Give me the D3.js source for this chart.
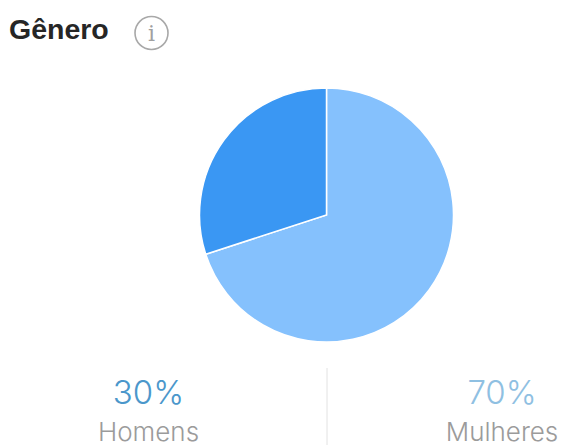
<!DOCTYPE html>
<html>
<head>
<meta charset="utf-8">
<script src="https://cdn.jsdelivr.net/npm/d3@7/dist/d3.min.js"></script>
<style>
html,body{margin:0;padding:0;background:#fff;overflow:hidden}
svg{display:block}
</style>
</head>
<body>
<svg id="chart" width="562" height="445"></svg>
<script>
const categories = ["Mulheres", "Homens"];
const shares = [70, 30];
const sliceColors = ["#85c1fd", "#3a97f3"];
const labelColors = ["#8fc0e2", "#4b97cb"];
const titleText = "Gênero";

const svg = d3.select("#chart");
const uiFont = "Inter, Roboto, 'Liberation Sans', sans-serif";

// Pie: clockwise from twelve o'clock, largest share first
const pie = d3.pie().value(d => d).sort(null);
const arc = d3.arc().innerRadius(0).outerRadius(127);

svg.append("g")
  .attr("transform", "translate(326.5,215)")
  .selectAll("path")
  .data(pie(shares))
  .join("path")
  .attr("d", arc)
  .attr("fill", (d, i) => sliceColors[i])
  .attr("stroke", "#ffffff")
  .attr("stroke-width", 1.5);

// Header
svg.append("text")
  .attr("x", 9).attr("y", 38.5)
  .attr("font-family", "'Liberation Sans', Arial, sans-serif")
  .attr("font-weight", 700).attr("font-size", 28.5)
  .attr("fill", "#262626")
  .text(titleText);

const info = svg.append("g").attr("transform", "translate(151.5,33)");
info.append("circle").attr("r", 16.5)
  .attr("fill", "none").attr("stroke", "#a8a8a8").attr("stroke-width", 1.6);
info.append("text")
  .attr("text-anchor", "middle").attr("y", 8)
  .attr("font-family", "'DejaVu Serif', 'Liberation Serif', serif")
  .attr("font-size", 22).attr("fill", "#a0a0a0")
  .text("i");

// Bottom legend: one column per category, split by a hairline
const legendX = d3.scalePoint().domain(["Homens", "Mulheres"]).range([148.5, 502]);

svg.append("line")
  .attr("x1", 327).attr("x2", 327).attr("y1", 368).attr("y2", 445)
  .attr("stroke", "#e2e2e2").attr("stroke-width", 1);

const legend = svg.append("g").selectAll("g")
  .data(categories.map((c, i) => ({ c, v: shares[i], color: labelColors[i] })))
  .join("g")
  .attr("transform", d => `translate(${legendX(d.c)},0)`);

legend.append("text")
  .attr("text-anchor", "middle").attr("y", 403.5)
  .attr("font-family", uiFont).attr("font-size", 33).attr("font-weight", 300)
  .attr("fill", d => d.color)
  .text(d => d.v + "%");

legend.append("text")
  .attr("text-anchor", "middle").attr("y", 441)
  .attr("font-family", uiFont).attr("font-size", 26).attr("font-weight", 300)
  .attr("fill", "#9b9b9b")
  .text(d => d.c);
</script>
</body>
</html>
